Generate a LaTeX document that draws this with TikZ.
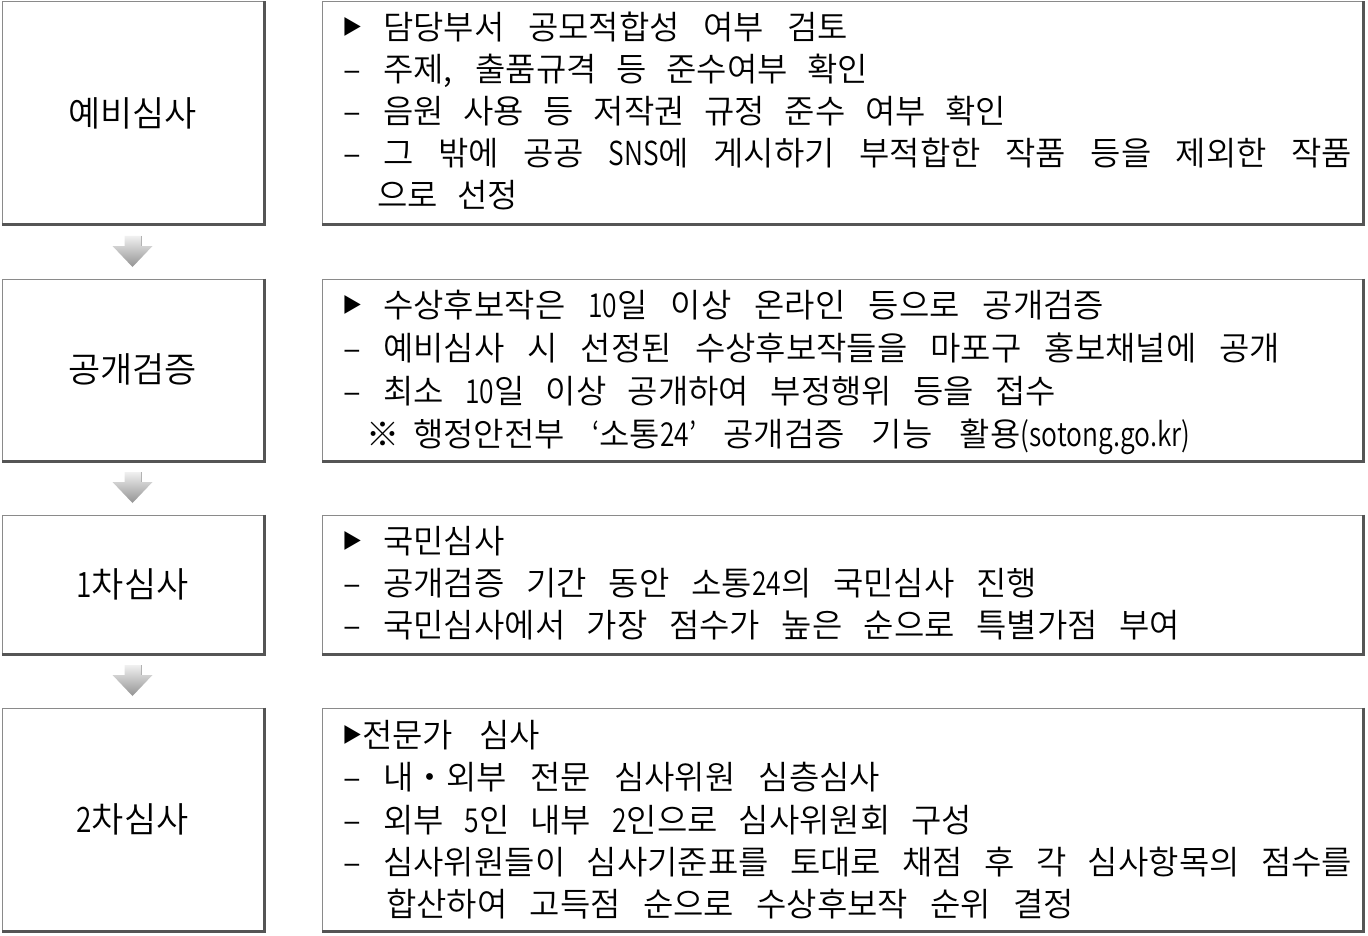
\documentclass[tikz,border=0pt]{standalone}
\usepackage{fontspec}
\usepackage{graphicx}
\IfFontExistsTF{Noto Sans CJK KR DemiLight}
  {\setmainfont{Noto Sans CJK KR DemiLight}}
  {\setmainfont{Noto Sans CJK KR}}
\usetikzlibrary{calc}
\definecolor{boxgray}{HTML}{8A8A8A}
\definecolor{shadowgray}{HTML}{555555}
\tikzset{
  lbox/.style={draw=boxgray, line width=1pt, fill=white, inner sep=0pt,
    minimum width=261pt, minimum height=#1, font=\fontsize{35}{40}\selectfont},
  rbox/.style={draw=boxgray, line width=1pt, fill=white, inner sep=0pt,
    minimum width=1040pt, minimum height=#1},
  shadowln/.style={draw=shadowgray, line width=3pt},
  txt/.style={anchor=base west, inner sep=0pt, font=\fontsize{33}{38}\selectfont},
  bullet/.style={anchor=base west, inner sep=0pt, font=\fontsize{20}{24}\selectfont},
  darr/.style={top color=gray!12, bottom color=gray!85, draw=none},
}
\newcommand{\nar}[1]{\scalebox{0.8}[1]{#1}}
\newcommand{\txtline}[5]{\node[txt] (#1) at (#2,#3) {\makebox[#4pt][s]{#5}};}
\newcommand{\blockarrow}[1]{%
  \shade[darr, shift={(#1)}] (-8,-15.5) -- (9,-15.5) -- (9,-5.5) -- (20,-5.5)
     -- (0,15.5) -- (-20,-5.5) -- (-8,-5.5) -- cycle;
  \draw[gray!60, line width=1pt, shift={(#1)}] (9,-15.5) -- (9,-5.5);}
\begin{document}
\begin{tikzpicture}[x=1pt, y=-1pt]
\useasboundingbox (0,0) rectangle (1368,936);

% left boxes
\node[lbox=222pt] (b1) at (132.5,113) {예비심사};
\node[lbox=181pt] (b2) at (132.5,369.5) {공개검증};
\node[lbox=138pt] (b3) at (132.5,584) {\nar{1}차심사};
\node[lbox=222pt] (b4) at (132.5,819) {\nar{2}차심사};
% right boxes
\node[rbox=222pt] (r1) at (842,113) {};
\node[rbox=181pt] (r2) at (842,369.5) {};
\node[rbox=138pt] (r3) at (842,584) {};
\node[rbox=222pt] (r4) at (842,819) {};

\foreach \n in {b1,b2,b3,b4,r1,r2,r3,r4}{
  \draw[shadowln] ([xshift=0.5pt]\n.north east) -- ([xshift=0.5pt,yshift=-0.5pt]\n.south east) -- ([yshift=-0.5pt]\n.south west);
}

% arrows between stages
\coordinate (a1) at ($(b1.south)!0.5!(b2.north)$);
\coordinate (a2) at ($(b2.south)!0.5!(b3.north)$);
\coordinate (a3) at ($(b3.south)!0.5!(b4.north)$);
\blockarrow{a1}
\blockarrow{a2}
\blockarrow{a3}

% box 1
\node[bullet] (m11) at (342,35) {▶};
\txtline{t11}{383}{40}{465}{담당부서 공모적합성 여부 검토}
\node[txt] (m12) at (343,82) {–};
\txtline{t12}{383}{82}{485}{주제, 출품규격 등 준수여부 확인}
\node[txt] (m13) at (343,124) {–};
\txtline{t13}{383}{124}{623}{음원 사용 등 저작권 규정 준수 여부 확인}
\node[txt] (m14) at (343,166) {–};
\txtline{t14}{383}{166}{969}{그 밖에 공공 \nar{SNS}에 게시하기 부적합한 작품 등을 제외한 작품}
\txtline{t15}{377}{208}{141}{으로 선정}

% box 2
\node[bullet] (m21) at (342,312) {▶};
\txtline{t21}{383}{317}{721}{수상후보작은 \nar{10}일 이상 온라인 등으로 공개검증}
\node[txt] (m22) at (343,360) {–};
\txtline{t22}{383}{360}{897}{예비심사 시 선정된 수상후보작들을 마포구 홍보채널에 공개}
\node[txt] (m23) at (343,403) {–};
\txtline{t23}{383}{403}{673}{최소 \nar{10}일 이상 공개하여 부정행위 등을 접수}
\node[txt] (m24) at (366,446) {※};
\txtline{t24}{413}{446}{777}{행정안전부 \nar{‘}소통\nar{24’} 공개검증 기능 활용\nar{(sotong.go.kr)}}

% box 3
\node[bullet] (m31) at (342,548) {▶};
\node[txt] (t31) at (383,553) {국민심사};
\node[txt] (m32) at (343,595) {–};
\txtline{t32}{383}{595}{654}{공개검증 기간 동안 소통\nar{24}의 국민심사 진행}
\node[txt] (m33) at (343,637) {–};
\txtline{t33}{383}{637}{797}{국민심사에서 가장 점수가 높은 순으로 특별가점 부여}

% box 4
\node[bullet] (m41) at (342,742) {▶};
\txtline{t41}{362}{747}{178}{전문가 심사}
\node[txt] (m42) at (343,789) {–};
\txtline{t42}{383}{789}{497}{내・외부 전문 심사위원 심층심사}
\node[txt] (m43) at (343,832) {–};
\txtline{t43}{383}{832}{589}{외부 \nar{5}인 내부 \nar{2}인으로 심사위원회 구성}
\node[txt] (m44) at (343,874) {–};
\txtline{t44}{383}{874}{969}{심사위원들이 심사기준표를 토대로 채점 후 각 심사항목의 점수를}
\txtline{t45}{386}{916}{688}{합산하여 고득점 순으로 수상후보작 순위 결정}
\end{tikzpicture}
\end{document}
